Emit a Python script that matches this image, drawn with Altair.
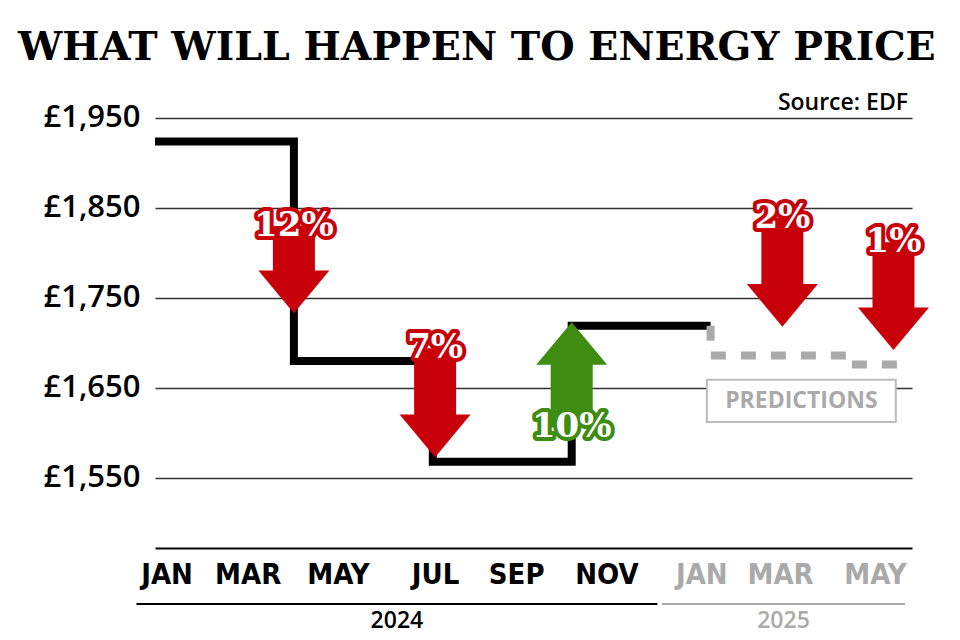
import json
import altair as alt
import pandas as pd

# ---------------- data ----------------
# months counted from Jan 2024 (0 = Jan 2024, 12 = Jan 2025)
step_month = [0, 3, 6, 9, 12]
step_price = [1924, 1680, 1568, 1719, 1719]

pred_month = [12, 12, 15, 16.2]
pred_price = [1719, 1686, 1676, 1676]

arrow_label = ["12%", "7%", "10%", "2%", "1%"]
arrow_month = [3, 6.05, 9, 13.55, 15.95]
arrow_from = [1830, 1694, 1606, 1839, 1812]
arrow_to = [1733, 1573, 1723, 1718, 1692]

month_ticks = [0.25, 2, 3.95, 6.05, 7.8, 9.75, 11.8, 13.5, 15.55]
month_labels = ["JAN", "MAR", "MAY", "JUL", "SEP", "NOV", "JAN", "MAR", "MAY"]

year_label = ["2024", "2025"]
year_start = [-0.4, 10.95]
year_end = [10.85, 16.2]

price_ticks = [1550, 1650, 1750, 1850, 1950]

pred_box_label = ["PREDICTIONS"]
pred_box_x = [11.92, 16.0]
pred_box_y = [1659, 1612]

# ---------------- styling ----------------
RED = "#c8000a"
GREEN = "#3f8c12"
GRAY = "#aaaaaa"
W, H = 757, 448
SLAB = "DejaVu Serif"

xscale = alt.Scale(domain=[0, 16.35], nice=False, zero=False)
yscale = alt.Scale(domain=[1472, 1970], nice=False, zero=False)

label_expr = f"{json.dumps(month_labels)}[indexof({json.dumps(month_ticks)}, datum.value)]"
xaxis = alt.Axis(
    values=month_ticks, labelExpr=label_expr, ticks=False, grid=False,
    domain=True, domainColor="#000000", domainWidth=2, title=None,
    labelFont="DejaVu Sans Condensed, DejaVu Sans, sans-serif",
    labelFontWeight="bold", labelFontSize=29, labelPadding=12,
    labelColor={"condition": {"test": "datum.value >= 11", "value": GRAY}, "value": "#000000"},
)
yaxis = alt.Axis(
    values=price_ticks, labelExpr="'£' + format(datum.value, ',')", ticks=False,
    domain=False, grid=True, gridColor="#333333", gridWidth=1.5, title=None,
    labelFont="Open Sans", labelFontWeight=600, labelFontSize=31,
    labelColor="#000000", labelPadding=15,
)


def X(f):
    return alt.X(f"{f}:Q", scale=xscale, axis=xaxis, title=None)


def Y(f):
    return alt.Y(f"{f}:Q", scale=yscale, axis=yaxis, title=None)


line_df = pd.DataFrame({"m": step_month, "p": step_price})
pred_df = pd.DataFrame({"m": pred_month, "p": pred_price})
arrow_df = pd.DataFrame({"label": arrow_label, "m": arrow_month,
                         "start": arrow_from, "tip": arrow_to})
arrow_df["dir"] = ["down" if a > b else "up" for a, b in zip(arrow_from, arrow_to)]
down_df = arrow_df[arrow_df["dir"] == "down"]
up_df = arrow_df[arrow_df["dir"] == "up"]
year_df = pd.DataFrame({"y": year_label, "s": year_start, "e": year_end})
year_df["mid"] = (year_df["s"] + year_df["e"]) / 2
year_df["col"] = ["#000000", GRAY]
box_df = pd.DataFrame({"label": pred_box_label, "x0": [pred_box_x[0]], "x1": [pred_box_x[1]],
                       "y0": [pred_box_y[0]], "y1": [pred_box_y[1]]})
box_df["xm"] = (box_df["x0"] + box_df["x1"]) / 2
box_df["ym"] = (box_df["y0"] + box_df["y1"]) / 2

# ---------------- layers ----------------
base_line = alt.Chart(line_df).mark_line(
    interpolate="step-after", color="#000000", strokeWidth=8, strokeCap="butt", strokeJoin="miter"
).encode(x=X("m"), y=Y("p"))

pred_line = alt.Chart(pred_df).mark_line(
    interpolate="step-after", color=GRAY, strokeWidth=8, strokeDash=[15, 15], strokeCap="butt"
).encode(x=X("m"), y=Y("p"))

box = alt.Chart(box_df).mark_rect(fill="#ffffff", stroke="#bbbbbb", strokeWidth=2).encode(
    x=X("x0"), x2="x1", y=Y("y0"), y2="y1")
box_text = alt.Chart(box_df).mark_text(
    font="Open Sans", fontWeight="bold", fontSize=23, color=GRAY, baseline="middle", align="center"
).encode(x=X("xm"), y=Y("ym"), text="label:N")

year_rules = alt.Chart(year_df).mark_rule(strokeWidth=2).encode(
    x=X("s"), x2="e", y=alt.value(H + 56), color=alt.Color("col:N", scale=None))
year_text = alt.Chart(year_df).mark_text(
    font="Open Sans", fontWeight=600, fontSize=23, baseline="middle", align="center"
).encode(x=X("mid"), y=alt.value(H + 73), text="y:N", color=alt.Color("col:N", scale=None))

source = alt.Chart(pd.DataFrame({"t": ["Source: EDF"]})).mark_text(
    font="Open Sans", fontWeight=600, fontSize=23, align="right", baseline="alphabetic", color="#000000"
).encode(x=alt.value(W - 4), y=alt.value(10), text="t:N")


def arrow_layers(df, color, offset, head_shape):
    shaft = alt.Chart(df).mark_rule(strokeWidth=42, strokeCap="butt", color=color, y2Offset=offset).encode(
        x=X("m"), y=Y("start"), y2="tip")
    head = alt.Chart(df).mark_point(shape=head_shape, size=5041, filled=True, opacity=1,
                                    color=color, strokeWidth=0).encode(x=X("m"), y=Y("tip"))
    outline = alt.Chart(df).mark_text(
        font=SLAB, fontWeight="bold", fontSize=34,
        baseline="middle", align="center", fill=color, stroke=color, strokeWidth=8, strokeJoin="round"
    ).encode(x=X("m"), y=Y("start"), text="label:N")
    inner = alt.Chart(df).mark_text(
        font=SLAB, fontWeight="bold", fontSize=34,
        baseline="middle", align="center", fill="#ffffff"
    ).encode(x=X("m"), y=Y("start"), text="label:N")
    return [shaft, head, outline, inner]


down_layers = arrow_layers(down_df, RED, -38, "M-1,-1.2L1,-1.2L0,0Z")
up_layers = arrow_layers(up_df, GREEN, 38, "M-1,1.2L1,1.2L0,0Z")

chart = alt.layer(
    base_line, pred_line, box, box_text, year_rules, year_text, source,
    *down_layers, *up_layers
).properties(
    width=W, height=H,
    background="#ffffff",
    autosize=alt.AutoSizeParams(type="none"),
    padding={"left": 155, "top": 100, "right": 48, "bottom": 92},
    title=alt.TitleParams(
        "WHAT WILL HAPPEN TO ENERGY PRICE", anchor="start", frame="group", dx=-137,
        font=SLAB, fontWeight="bold", fontSize=39.5,
        color="#000000", offset=24,
    ),
).configure_view(stroke=None, strokeWidth=0)

chart.save("out.html", embed_options={"renderer": "svg", "actions": False})
